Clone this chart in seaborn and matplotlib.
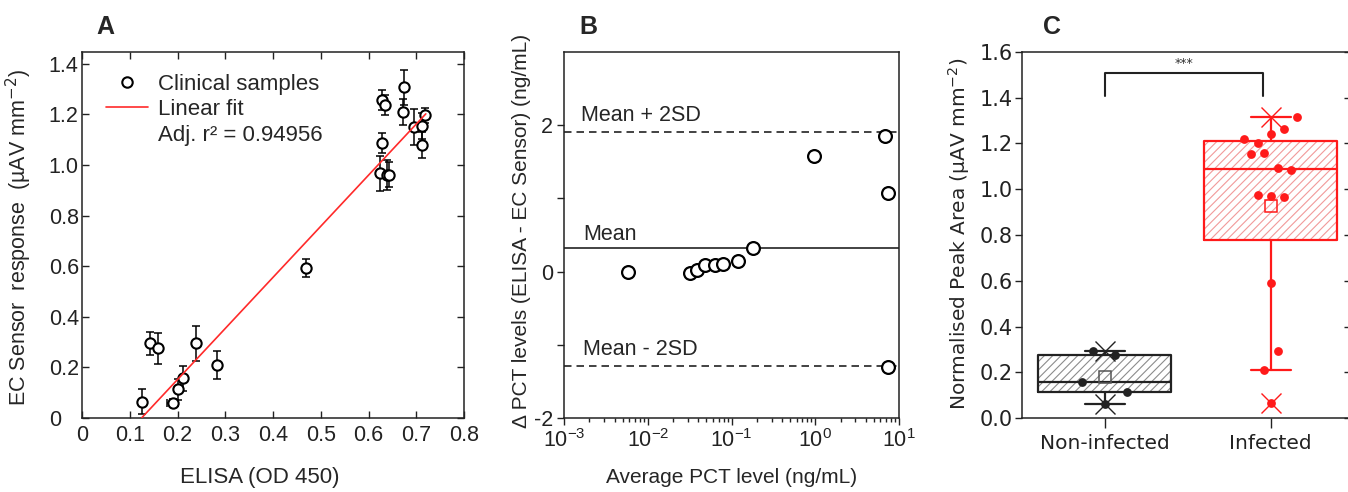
import numpy as np
import matplotlib
matplotlib.use("Agg")
import matplotlib.pyplot as plt
from matplotlib.lines import Line2D
import seaborn as sns

# ---- panel A: EC sensor vs ELISA
elisa = [0.125, 0.142, 0.160, 0.190, 0.200, 0.212, 0.238, 0.282, 0.469,
         0.624, 0.629, 0.628, 0.635, 0.638, 0.643, 0.673, 0.674, 0.696,
         0.713, 0.713, 0.718]
ec_resp = [0.065, 0.295, 0.275, 0.060, 0.113, 0.157, 0.295, 0.210, 0.592,
           0.967, 1.086, 1.257, 1.237, 0.960, 0.962, 1.210, 1.307, 1.151,
           1.154, 1.079, 1.197]
ec_err = [0.05, 0.045, 0.06, 0.015, 0.04, 0.05, 0.07, 0.055, 0.035,
          0.07, 0.04, 0.04, 0.04, 0.06, 0.05, 0.05, 0.07, 0.07,
          0.05, 0.05, 0.03]
elisa_err = [0, 0, 0, 0.012, 0, 0, 0, 0, 0,
             0, 0, 0, 0, 0, 0, 0, 0, 0,
             0, 0, 0]
fit_x = [0.125, 0.72]
fit_slope = 2.02
fit_intercept = -0.252
adj_r2 = "0.94956"

# ---- panel B: Bland-Altman style
pct_avg = [0.00582, 0.0318, 0.0382, 0.0481, 0.0632, 0.0794, 0.120, 0.1815,
           0.964, 6.8, 7.46, 7.46]
pct_diff = [0.0, -0.02, 0.02, 0.09, 0.09, 0.11, 0.146, 0.32,
            1.577, 1.85, 1.077, -1.295]
mean_diff = 0.32
upper_lim = 1.91
lower_lim = -1.28

# ---- panel C: box plots
groups = ["Non-infected", "Infected"]
noninf = [0.295, 0.276, 0.157, 0.113, 0.062]
noninf_jit = [-0.07, 0.065, -0.135, 0.135, 0.0]
inf = [1.314, 1.261, 1.241, 1.218, 1.203, 1.154, 1.159, 1.091, 1.084,
       0.975, 0.970, 0.965, 0.592, 0.295, 0.211, 0.065]
inf_jit = [0.16, 0.083, 0.0, -0.16, -0.078, -0.118, -0.038, 0.042, 0.123,
           -0.078, 0.0, 0.083, 0.0, 0.042, -0.038, 0.0]

sns.set_style("ticks")
plt.rcParams["font.family"] = ["Liberation Sans", "DejaVu Sans"]
plt.rcParams["axes.unicode_minus"] = False
plt.rcParams["axes.linewidth"] = 1.1
plt.rcParams["axes.edgecolor"] = "#222222"
plt.rcParams["hatch.linewidth"] = 0.8

fig = plt.figure(figsize=(13.48, 4.92), dpi=100)
W, H = 1348, 492


def axes_px(x0, x1, y0, y1):
    return fig.add_axes([x0 / W, 1 - y1 / H, (x1 - x0) / W, (y1 - y0) / H])


# ================= A
axA = axes_px(82, 464, 52, 418)
axA.errorbar(elisa, ec_resp, yerr=ec_err, xerr=elisa_err, fmt="none",
             ecolor="black", elinewidth=1.1, capsize=3, capthick=1.1, zorder=2)
sns.scatterplot(x=elisa, y=ec_resp, ax=axA, marker="o", s=55,
                facecolor="white", edgecolor="black", linewidth=1.5, zorder=3)
fit_y = [fit_slope * v + fit_intercept for v in fit_x]
sns.lineplot(x=fit_x, y=fit_y, ax=axA, color="#ff2a2a", lw=1.2, zorder=4)
axA.set_xlim(0, 0.8)
axA.set_ylim(0, 1.447)
xt = np.round(np.arange(0, 0.81, 0.1), 1)
axA.set_xticks(xt)
axA.set_xticklabels(["0"] + [f"{v:.1f}" for v in xt[1:]])
yt = np.round(np.arange(0, 1.41, 0.2), 1)
axA.set_yticks(yt)
axA.set_yticklabels(["0"] + [f"{v:.1f}" for v in yt[1:]])
axA.tick_params(direction="in", top=True, right=True, length=5, width=1,
                labelsize=15.5, colors="#222222")
axA.tick_params(axis="x", pad=5)
axA.tick_params(axis="y", pad=24)
for t in axA.get_yticklabels():
    t.set_horizontalalignment("left")
axA.set_xlabel("ELISA (OD 450)", fontsize=16)
axA.set_ylabel("EC Sensor  response  (µAV mm$^{-2}$)", fontsize=15.5)
axA.xaxis.set_label_coords(0.466, -0.135)
axA.yaxis.set_label_coords(-0.125, 0.493)
handles = [Line2D([], [], marker="o", ls="none", mfc="white", mec="black",
                  ms=7.5, mew=1.5),
           Line2D([], [], color="#ff2a2a", lw=1.2),
           Line2D([], [], ls="none")]
axA.legend(handles, ["Clinical samples", "Linear fit", f"Adj. r² = {adj_r2}"],
           loc="upper left", bbox_to_anchor=(0.04, 0.965), borderaxespad=0,
           frameon=False, fontsize=16, handlelength=1.9, handletextpad=0.45,
           labelspacing=0.2)

# ================= B
axB = axes_px(564.3, 899, 51.7, 418.3)
axB.axhline(upper_lim, color="#222222", ls=(0, (4.5, 3)), lw=1.2)
axB.axhline(mean_diff, color="#222222", ls="-", lw=1.2)
axB.axhline(lower_lim, color="#222222", ls=(0, (4.5, 3)), lw=1.2)
sns.scatterplot(x=pct_avg, y=pct_diff, ax=axB, marker="o", s=85,
                facecolor="white", edgecolor="black", linewidth=1.6, zorder=3)
axB.set_xscale("log")
axB.set_xlim(1e-3, 1e1)
axB.set_ylim(-2, 3)
axB.set_yticks([-2, -1, 0, 1, 2])
axB.set_yticklabels(["-2", "", "0", "", "2"])
axB.tick_params(direction="out", which="both", top=False, right=False,
                labelsize=15.5, colors="#222222", width=1)
axB.tick_params(which="major", length=5, pad=3)
axB.tick_params(which="minor", length=3)
lab_tr = axB.get_yaxis_transform()
axB.text(0.05, upper_lim + 0.22, "Mean + 2SD", transform=lab_tr,
         fontsize=15.5, va="center", ha="left")
axB.text(0.057, mean_diff + 0.19, "Mean", transform=lab_tr,
         fontsize=15.5, va="center", ha="left")
axB.text(0.057, lower_lim + 0.22, "Mean - 2SD", transform=lab_tr,
         fontsize=15.5, va="center", ha="left")
axB.set_xlabel("Average PCT level (ng/mL)", fontsize=15)
axB.set_ylabel("Δ PCT levels (ELISA - EC Sensor) (ng/mL)", fontsize=15)
axB.xaxis.set_label_coords(0.5, -0.136)
axB.yaxis.set_label_coords(-0.1, 0.51)

# ================= C
axC = axes_px(1021.7, 1353.6, 51.7, 418.3)
colors = ["#222222", "#ff1a1a"]
hatch_cols = ["#8c8c8c", "#f29a9a"]
datasets = [noninf, inf]
jitters = [noninf_jit, inf_jit]


def box_stats(vals, label):
    v = np.sort(np.asarray(vals))
    q1, med, q3 = np.percentile(v, [25, 50, 75], method="midpoint")
    iqr = q3 - q1
    lo = v[v >= q1 - 1.5 * iqr].min()
    hi = v[v <= q3 + 1.5 * iqr].max()
    return dict(label=label, q1=q1, med=med, q3=q3, whislo=lo, whishi=hi,
                mean=v.mean(), fliers=[])


for i, (vals, jit) in enumerate(zip(datasets, jitters)):
    st = box_stats(vals, groups[i])
    c = colors[i]
    # hatched fill
    axC.bxp([st], positions=[i], widths=0.805, patch_artist=True,
            showcaps=False, showfliers=False, manage_ticks=False,
            boxprops=dict(facecolor="white", edgecolor=hatch_cols[i],
                          hatch="////", linewidth=0.5),
            whiskerprops=dict(linewidth=0), medianprops=dict(linewidth=0),
            zorder=1)
    # outlines, whiskers, median and mean
    axC.bxp([st], positions=[i], widths=0.805, capwidths=0.24,
            showmeans=True, showfliers=False, manage_ticks=False,
            boxprops=dict(color=c, linewidth=1.6),
            whiskerprops=dict(color=c, linewidth=1.6),
            capprops=dict(color=c, linewidth=1.6),
            medianprops=dict(color=c, linewidth=1.6),
            meanprops=dict(marker="s", mfc="none", mec=c if i else "#555555",
                           ms=9, mew=1.1),
            zorder=2)
    sns.scatterplot(x=np.array(jit) + i, y=vals, ax=axC, color=c, s=40,
                    linewidth=0, zorder=3)
    axC.plot([i, i], [min(vals), max(vals)], ls="none", marker="x", ms=14,
             mew=1.0, color=c, zorder=4)

# significance bracket
axC.plot([0, 0, 0.955, 0.955], [1.407, 1.506, 1.506, 1.407], color="#222222",
         lw=1.5)
axC.text(0.48, 1.522, "***", ha="center", va="bottom", fontsize=9,
         family="DejaVu Sans", color="#333333")

axC.set_xlim(-0.5, 1.5)
axC.set_ylim(0, 1.6)
axC.set_xticks([0, 1])
axC.set_xticklabels(groups)
cyt = np.round(np.arange(0, 1.61, 0.2), 1)
axC.set_yticks(cyt)
axC.set_yticklabels([f"{v:.1f}" for v in cyt])
axC.tick_params(direction="out", top=False, right=False, width=1,
                colors="#222222", labelsize=15)
axC.tick_params(axis="y", length=5, pad=1.5)
axC.tick_params(axis="x", length=7, pad=4, labelsize=14.5)
for t in axC.get_xticklabels() + axC.get_yticklabels():
    t.set_fontfamily("DejaVu Sans")
sec = axC.secondary_yaxis("right")
sec.set_yticks(cyt)
sec.tick_params(direction="in", length=7, width=1, labelright=False,
                colors="#222222")
axC.set_ylabel("Normalised Peak Area (µAV mm$^{-2}$)", fontsize=14.5,
               family="DejaVu Sans")
axC.yaxis.set_label_coords(-0.15, 0.504)

# panel letters
for letter, xp in [("A", 105), ("B", 588), ("C", 1052)]:
    fig.text(xp / W, 1 - 27 / H, letter, fontsize=18, fontweight="bold",
             ha="center", va="center")

fig.savefig("out.png", dpi=100)
